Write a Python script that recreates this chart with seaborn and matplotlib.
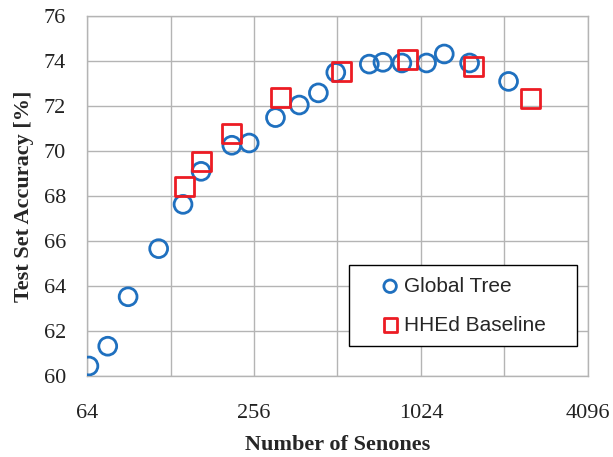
"""Test set accuracy versus number of senones (Global Tree vs HHEd baseline)."""

import matplotlib

matplotlib.use("Agg")

import matplotlib.pyplot as plt
import pandas as pd
import seaborn as sns
from matplotlib.patches import Rectangle
from matplotlib.ticker import FixedLocator, NullFormatter, NullLocator


# values
GLOBAL_SENONES = [65, 76, 90, 116, 142, 165, 213, 246, 306, 373, 437, 505,
                  667, 747, 874, 1073, 1243, 1534, 2120]
GLOBAL_ACC = [60.45, 61.33, 63.53, 65.67, 67.64, 69.11, 70.27, 70.37, 71.5,
              72.06, 72.6, 73.51, 73.88, 73.96, 73.93, 73.93, 74.33, 73.93,
              73.11]

HHED_SENONES = [144, 165, 212, 320, 529, 917, 1587, 2540]
HHED_ACC = [68.44, 69.56, 70.79, 72.4, 73.56, 74.1, 73.78, 72.36]

X_MAJOR = [64, 256, 1024, 4096]
X_GRID = [128, 512, 2048]
Y_TICKS = [60, 62, 64, 66, 68, 70, 72, 74, 76]

BLUE = "#1F70BF"
RED = "#EC1C24"
GRID = "#B4B4B4"


def main() -> None:
    sns.set_theme(style="white")
    plt.rcParams["font.family"] = ["Liberation Serif", "DejaVu Serif"]

    global_df = pd.DataFrame({"senones": GLOBAL_SENONES, "acc": GLOBAL_ACC})
    hhed_df = pd.DataFrame({"senones": HHED_SENONES, "acc": HHED_ACC})

    fig = plt.figure(figsize=(6.13, 4.57), dpi=100)
    ax = fig.add_axes([0.142, 0.177, 0.817, 0.787])

    sns.scatterplot(data=global_df, x="senones", y="acc", ax=ax,
                    marker="o", s=165, facecolors="none", edgecolor=BLUE,
                    linewidth=2.0, label="Global Tree", zorder=3)
    sns.scatterplot(data=hhed_df, x="senones", y="acc", ax=ax,
                    marker="s", s=185, facecolors="none", edgecolor=RED,
                    linewidth=2.0, label="HHEd Baseline", zorder=4)

    ax.set_xscale("log", base=2)
    ax.set_xlim(64, 4096)
    ax.set_ylim(60, 76)
    ax.xaxis.set_major_locator(FixedLocator(X_MAJOR))
    ax.xaxis.set_minor_locator(FixedLocator(X_GRID))
    ax.xaxis.set_minor_formatter(NullFormatter())
    ax.set_xticklabels([str(v) for v in X_MAJOR])
    ax.set_yticks(Y_TICKS)
    ax.yaxis.set_minor_locator(NullLocator())

    ax.grid(True, which="both", color=GRID, linewidth=1.0)
    ax.tick_params(axis="x", which="minor", length=0)
    ax.tick_params(axis="both", which="major", direction="out", length=5,
                   width=0.9, color="#999999", labelsize=16,
                   labelcolor="#222222")
    ax.tick_params(axis="x", which="major", pad=15)
    ax.tick_params(axis="y", which="major", pad=10)
    for side in ax.spines.values():
        side.set_color(GRID)
        side.set_linewidth(1.0)

    ax.set_xlabel("Number of Senones", fontsize=16, fontweight="bold",
                  labelpad=9)
    ax.set_ylabel("Test Set Accuracy [%]", fontsize=16, fontweight="bold",
                  labelpad=7)

    # legend frame drawn as its own box so the entries can sit centred in it
    ax.add_patch(Rectangle((0.523, 0.084), 0.455, 0.225,
                           transform=ax.transAxes, facecolor="white",
                           edgecolor="black", linewidth=1.0, zorder=5))
    leg = ax.legend(loc="center", bbox_to_anchor=(0.752, 0.196),
                    frameon=False, markerscale=0.7, handlelength=0.8,
                    handletextpad=0.25, labelspacing=0.95, borderpad=0,
                    prop={"family": ["Liberation Sans", "DejaVu Sans"],
                          "size": 15})
    leg.set_zorder(6)

    fig.savefig("out.png", dpi=100)
    plt.close(fig)


if __name__ == "__main__":
    main()
